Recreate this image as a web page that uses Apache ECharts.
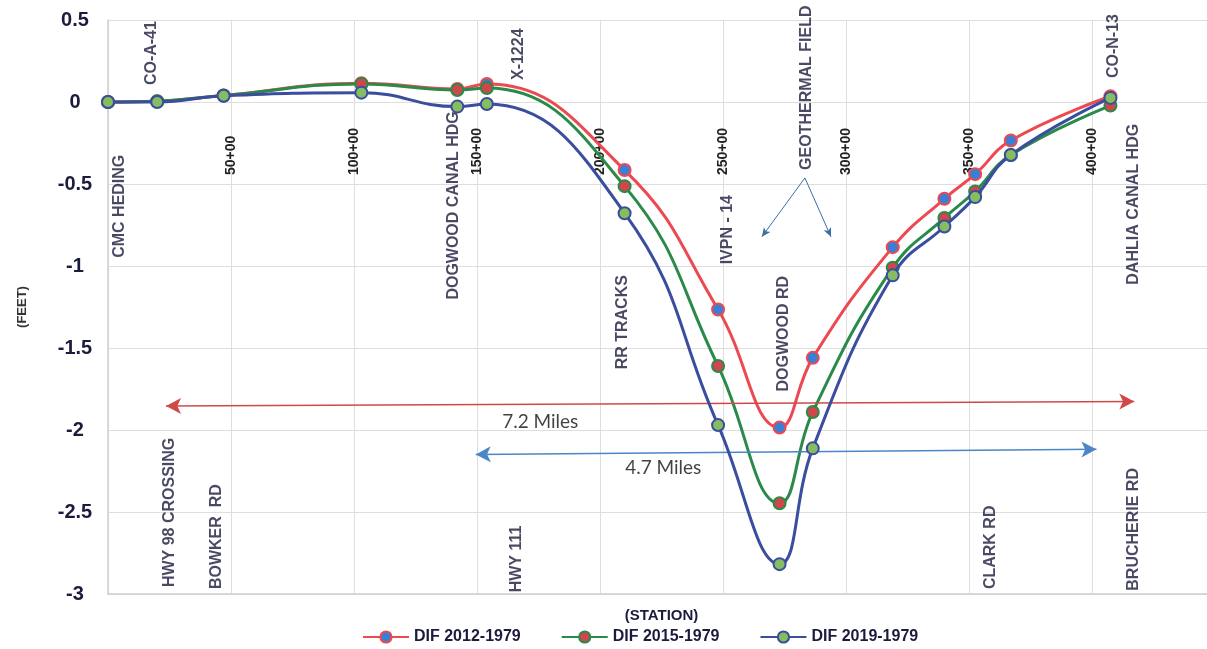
<!DOCTYPE html>
<html><head><meta charset="utf-8">
<script src="https://cdn.jsdelivr.net/npm/echarts@6/dist/echarts.min.js"></script>
<style>html,body{margin:0;padding:0;background:#fff}#c{width:1207px;height:649px}</style>
</head><body><div id="c"></div>
<script>
// ---- data ----
const stations = [0, 20, 47, 103, 142, 154, 210, 248, 273, 286.5, 319, 340, 352.5, 367, 407.5];
const dif2012 = [0, 0.005, 0.04, 0.115, 0.08, 0.11, -0.415, -1.265, -1.985, -1.56, -0.885, -0.59, -0.44, -0.235, 0.035];
const dif2015 = [0, 0.005, 0.04, 0.11, 0.073, 0.085, -0.513, -1.61, -2.447, -1.89, -1.01, -0.707, -0.545, -0.323, -0.022];
const dif2019 = [0, 0.0, 0.038, 0.057, -0.028, -0.012, -0.678, -1.97, -2.818, -2.112, -1.057, -0.759, -0.58, -0.323, 0.025];
const seriesNames = ['DIF 2012-1979', 'DIF 2015-1979', 'DIF 2019-1979'];
const xTickValues = [0, 50, 100, 150, 200, 250, 300, 350, 400, 450];
const yTickValues = [0.5, 0, -0.5, -1, -1.5, -2, -2.5, -3];
const landmarkNames = ['CMC HEDING', 'CO-A-41', 'DOGWOOD CANAL HDG', 'X-1224', 'RR TRACKS', 'IVPN - 14', 'DOGWOOD RD', 'GEOTHERMAL FIELD', 'CO-N-13', 'DAHLIA CANAL HDG', 'HWY 98 CROSSING', 'BOWKER  RD', 'HWY 111', 'CLARK RD', 'BRUCHERIE RD'];
const landmarkStations = [4.9, 17.9, 140.3, 167.1, 209, 251.7, 274.5, 283.9, 408.7, 416.8, 25.2, 44.3, 165.9, 358.7, 416.8];
const landmarkLevels = [-0.95, 0.103, -1.205, 0.134, -1.63, -0.99, -1.765, -0.414, 0.146, -1.114, -2.958, -2.97, -2.99, -2.97, -2.98];
const spanLabels = ['7.2 Miles', '4.7 Miles'];
const spanStart = [[23.6, -1.854], [149.5, -2.149]];
const spanEnd = [[417.2, -1.826], [401.8, -2.118]];
const spanLabelPos = [[175.7, -1.948], [225.7, -2.228]];
const geoArrowFrom = [283.3, -0.463];
const geoArrowTo = [[265.8, -0.822], [293.9, -0.822]];

const FONT = "'Liberation Sans', Arial, sans-serif";
const INK = '#1b1b3d';
const lineColors = ['#ec4a50', '#2a8a4a', '#3a4d9e'];
const dotColors = ['#3a7fd6', '#cf464c', '#86bd5e'];

const chart = echarts.init(document.getElementById('c'), null, {renderer: 'canvas'});

function pairs(ys) { return stations.map((s, i) => [s, ys[i]]); }

const lineSeries = [dif2012, dif2015, dif2019].map((ys, k) => ({
  name: seriesNames[k],
  type: 'line',
  xAxisIndex: 0,
  data: pairs(ys),
  smooth: 0.45,
  symbol: 'circle',
  symbolSize: 12,
  lineStyle: {color: lineColors[k], width: 3},
  itemStyle: {color: dotColors[k], borderColor: lineColors[k], borderWidth: 2},
  emphasis: {disabled: true},
  z: 3 + k
}));

const landmarkSeries = {
  type: 'scatter',
  xAxisIndex: 0,
  silent: true,
  symbolSize: 1,
  itemStyle: {color: 'transparent'},
  data: landmarkNames.map((n, i) => ({name: n, value: [landmarkStations[i], landmarkLevels[i]]})),
  label: {
    show: true, position: 'inside', formatter: '{b}', rotate: 90,
    align: 'left', verticalAlign: 'middle',
    color: INK, fontFamily: FONT, fontWeight: 'bold', fontSize: 16
  },
  emphasis: {disabled: true},
  z: 2
};

const spanTextSeries = {
  type: 'scatter',
  xAxisIndex: 0,
  silent: true,
  symbolSize: 1,
  itemStyle: {color: 'transparent'},
  data: spanLabels.map((n, i) => ({name: n, value: spanLabelPos[i]})),
  label: {
    show: true, position: 'inside', formatter: '{b}',
    align: 'center', verticalAlign: 'middle',
    color: '#111', fontFamily: "Lato, 'Open Sans', sans-serif", fontSize: 19
  },
  emphasis: {disabled: true},
  z: 2
};

const arrowSeries = {
  type: 'line',
  xAxisIndex: 0,
  data: [],
  silent: true,
  markLine: {
    silent: true,
    animation: false,
    label: {show: false},
    emphasis: {disabled: true},
    data: [
      [{coord: spanStart[0], symbol: 'arrow', symbolSize: [12, 15], lineStyle: {color: '#cf4a46', width: 1.5, type: 'solid'}},
       {coord: spanEnd[0], symbol: 'arrow', symbolSize: [12, 15]}],
      [{coord: spanStart[1], symbol: 'arrow', symbolSize: [12, 15], lineStyle: {color: '#4a86c8', width: 1.5, type: 'solid'}},
       {coord: spanEnd[1], symbol: 'arrow', symbolSize: [12, 15]}],
      [{coord: geoArrowFrom, symbol: 'none', lineStyle: {color: '#3d6fa3', width: 1, type: 'solid'}},
       {coord: geoArrowTo[0], symbol: 'arrow', symbolSize: [6, 9]}],
      [{coord: geoArrowFrom, symbol: 'none', lineStyle: {color: '#3d6fa3', width: 1, type: 'solid'}},
       {coord: geoArrowTo[1], symbol: 'arrow', symbolSize: [6, 9]}]
    ]
  },
  z: 2
};

const option = {
  animation: false,
  backgroundColor: '#ffffff',
  grid: {left: 108, top: 20, width: 1107, height: 574, containLabel: false, outerBoundsMode: 'none'},
  legend: {
    data: seriesNames,
    left: 362, top: 629, padding: 0,
    itemWidth: 46, itemHeight: 14, itemGap: 40,
    textStyle: {color: INK, fontFamily: FONT, fontWeight: 'bold', fontSize: 16}
  },
  xAxis: [{
    // station tick labels hang just under the zero line, as in the reference
    type: 'value', position: 'bottom', offset: -492,
    min: xTickValues[0], max: xTickValues[xTickValues.length - 1], interval: 50,
    axisLine: {show: false, onZero: false},
    axisTick: {show: false},
    axisLabel: {
      rotate: 90, align: 'left', verticalAlign: 'middle', margin: 73,
      fontFamily: FONT, fontWeight: 'bold', fontSize: 14,
      color: v => (v === 200 ? '#9a9a9a' : '#222'),
      formatter: v => (v === 0 ? '' : v + '+00')
    },
    splitLine: {show: true, lineStyle: {color: '#dedede', width: 1}}
  }, {
    type: 'value', position: 'bottom',
    min: xTickValues[0], max: xTickValues[xTickValues.length - 1], interval: 50,
    axisLine: {show: true, onZero: false, lineStyle: {color: '#cfcfcf', width: 1.5}},
    axisTick: {show: false},
    axisLabel: {show: false},
    splitLine: {show: false},
    name: '(STATION)', nameLocation: 'middle', nameGap: 14,
    nameTextStyle: {color: INK, fontFamily: FONT, fontWeight: 'bold', fontSize: 15}
  }],
  yAxis: {
    type: 'value',
    min: yTickValues[yTickValues.length - 1], max: yTickValues[0], interval: 0.5,
    axisLine: {show: true, onZero: false, lineStyle: {color: '#cfcfcf', width: 1.5}},
    axisTick: {show: false},
    axisLabel: {
      margin: 33, align: 'center',
      fontFamily: FONT, fontWeight: 'bold', fontSize: 20, color: INK
    },
    splitLine: {show: true, lineStyle: {color: '#dedede', width: 1}},
    name: '(FEET)', nameLocation: 'middle', nameGap: 79, nameRotate: 90,
    nameTextStyle: {color: '#333', fontFamily: FONT, fontWeight: 'bold', fontSize: 13}
  },
  series: [...lineSeries, landmarkSeries, spanTextSeries, arrowSeries]
};
chart.setOption(option);
</script>
</body></html>
